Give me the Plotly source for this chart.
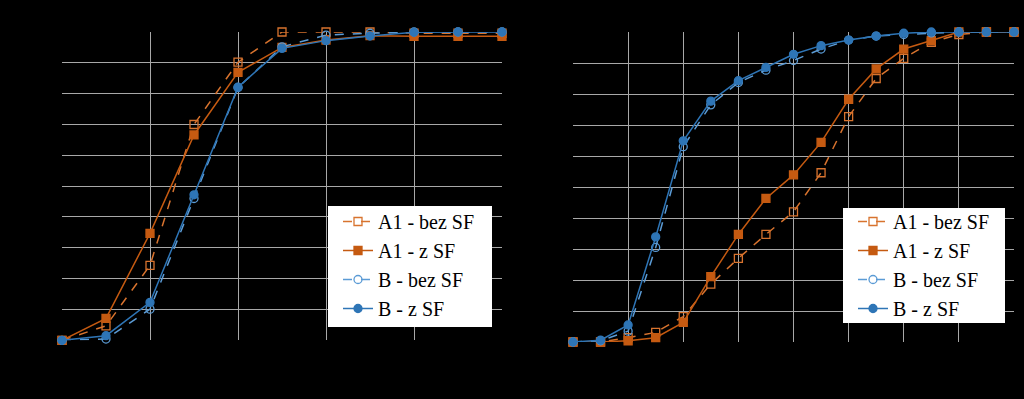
import plotly.graph_objects as go

# ---- data: left chart (11 sieve steps) ----
left_x = list(range(11))
left_a1_bez = [0, 4.7, 24.3, 70.0, 90.2, 100, 100, 100, 99.6, 99.6, 99.6]
left_a1_z   = [0, 7.1, 34.7, 66.6, 86.9, 95.0, 97.4, 98.8, 98.6, 98.6, 98.6]
left_b_bez  = [0, 0.4, 10.1, 46.0, 82.0, 95.2, 99.0, 99.6, 100, 100, 100]
left_b_z    = [0, 1.5, 12.3, 47.2, 82.1, 94.7, 97.2, 98.7, 99.9, 100, 100]

# ---- data: right chart (17 steps) ----
right_x = list(range(17))
right_a1_bez = [0, 0, 1.4, 3.1, 8.2, 18.7, 27.0, 34.7, 42.0, 54.6, 72.7, 85.0, 91.5, 96.7, 99.2, 100, 100]
right_a1_z   = [0, 0, 0.4, 1.4, 6.3, 21.1, 34.7, 46.3, 53.9, 64.4, 78.3, 88.1, 94.5, 97.2, 100, 100, 100]
right_b_bez  = [0, 0.4, 3.5, 30.5, 63.0, 76.5, 83.7, 87.7, 90.8, 94.5, 97.4, 98.7, 99.2, 99.7, 100, 100, 100]
right_b_z    = [0, 0.6, 5.5, 33.9, 64.9, 77.7, 84.3, 88.6, 92.8, 95.6, 97.4, 98.7, 99.6, 100, 100, 100, 100]

names = ["A1 - bez SF", "A1 - z SF", "B - bez SF", "B - z SF"]

ORANGE = "#C55A11"
ORANGE_L = "#D8732E"
BLUE = "#2E75B6"
BLUE_L = "#5B9BD5"

styles = [
    dict(color=ORANGE_L, dash="dash", symbol="square-open"),
    dict(color=ORANGE, dash="solid", symbol="square"),
    dict(color=BLUE_L, dash="dash", symbol="circle-open"),
    dict(color=BLUE, dash="solid", symbol="circle"),
]

SERIF = "Liberation Serif"

def serif_label(text):
    return f'<span style="font-family:{SERIF}">{text}</span>'

fig = go.Figure()

left_series = [left_a1_bez, left_a1_z, left_b_bez, left_b_z]
right_series = [right_a1_bez, right_a1_z, right_b_bez, right_b_z]

for name, ys, st in zip(names, left_series, styles):
    fig.add_trace(go.Scatter(
        x=left_x, y=ys, name=serif_label(name), mode="lines+markers",
        line=dict(color=st["color"], width=1.5, dash=st["dash"]),
        marker=dict(symbol=st["symbol"], size=8, color=st["color"],
                    line=dict(color=st["color"], width=1.3)),
        xaxis="x", yaxis="y", legend="legend", cliponaxis=False,
    ))

for name, ys, st in zip(names, right_series, styles):
    fig.add_trace(go.Scatter(
        x=right_x, y=ys, name=serif_label(name), mode="lines+markers",
        line=dict(color=st["color"], width=1.5, dash=st["dash"]),
        marker=dict(symbol=st["symbol"], size=8, color=st["color"],
                    line=dict(color=st["color"], width=1.3)),
        xaxis="x2", yaxis="y2", legend="legend2", cliponaxis=False,
    ))

W, H = 1024, 399
GRID = "#a8a8a8"

def fx(px):
    return px / W

def fy(py):
    return 1 - py / H

axis_common = dict(showline=False, zeroline=False, showticklabels=False,
                   ticks="", gridcolor=GRID, gridwidth=1)

# white legend boxes (drawn above the gridlines and traces)
boxes = [(328, 206, 492, 327), (843, 208, 1005, 323)]
shapes = [dict(type="rect", xref="paper", yref="paper", layer="above",
               x0=fx(a), x1=fx(c), y0=fy(d), y1=fy(b),
               fillcolor="white", line=dict(width=0))
          for a, b, c, d in boxes]

legend_font = dict(size=20, color="black", family=SERIF)

fig.update_layout(
    width=W, height=H,
    paper_bgcolor="black", plot_bgcolor="black",
    margin=dict(l=0, r=0, t=0, b=0),
    font=dict(family=SERIF, color="black"),
    shapes=shapes,
    xaxis=dict(domain=[fx(62), fx(502)], range=[0, 10],
               tickmode="array", tickvals=[2, 4, 6, 8], **axis_common),
    yaxis=dict(domain=[fy(340.3), fy(32)], range=[0, 100],
               tickmode="array", tickvals=[10, 20, 30, 40, 50, 60, 70, 80, 90], **axis_common),
    xaxis2=dict(domain=[fx(573), fx(1014)], range=[0, 16], anchor="y2",
                tickmode="array", tickvals=[2, 4, 6, 8, 10, 12, 14], **axis_common),
    yaxis2=dict(domain=[fy(342), fy(32)], range=[0, 100], anchor="x2",
                tickmode="array", tickvals=[10, 20, 30, 40, 50, 60, 70, 80, 90], **axis_common),
    legend=dict(x=fx(338), y=fy(202), xanchor="left", yanchor="top",
                bgcolor="rgba(0,0,0,0)", borderwidth=0, font=legend_font,
                itemwidth=30, tracegroupgap=0),
    legend2=dict(x=fx(853), y=fy(202), xanchor="left", yanchor="top",
                 bgcolor="rgba(0,0,0,0)", borderwidth=0, font=legend_font,
                 itemwidth=30, tracegroupgap=0),
    showlegend=True,
)

fig.write_html("out.html", config={"displayModeBar": False},
               post_script="document.body.style.margin='0';document.body.style.background='black';")
